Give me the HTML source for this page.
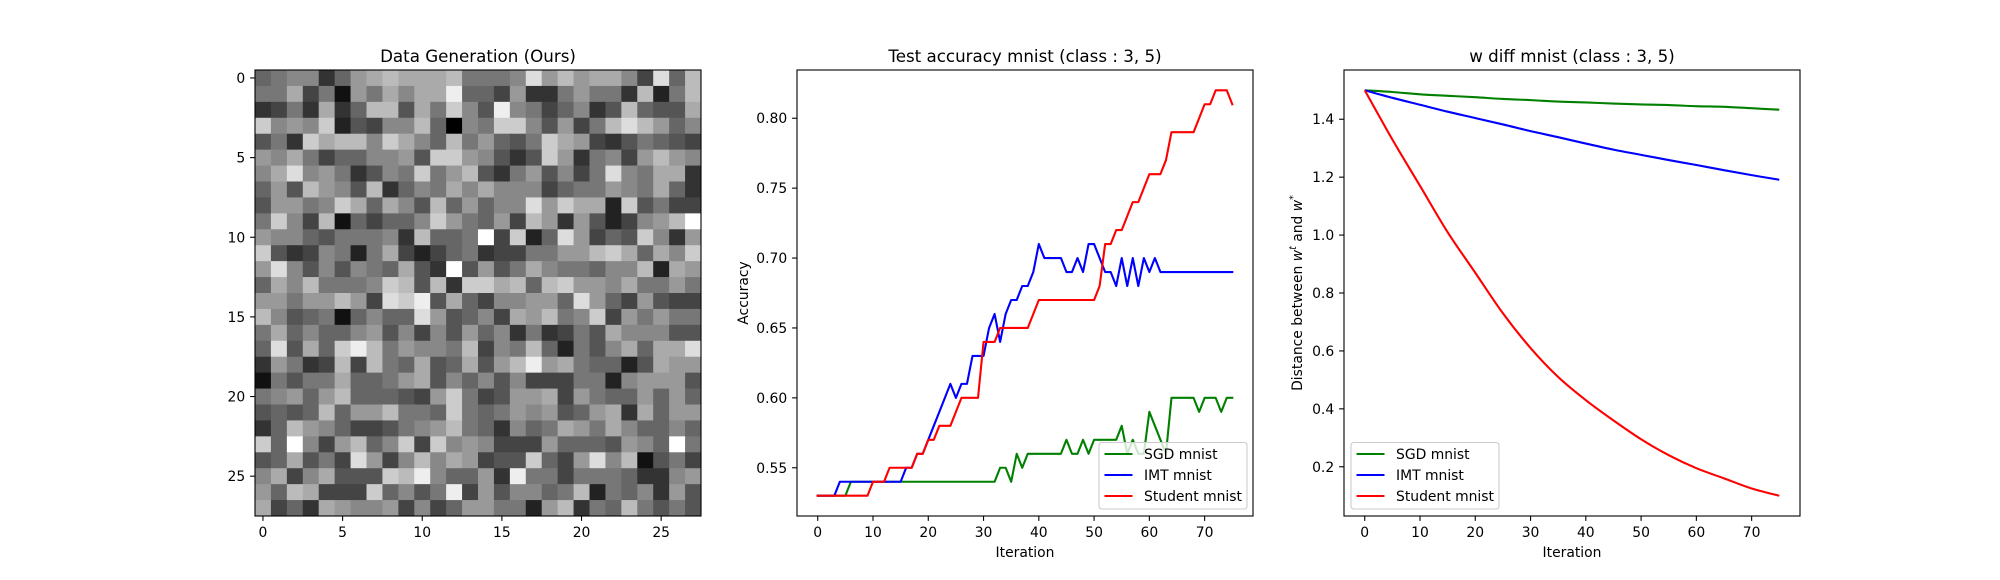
<!DOCTYPE html>
<html><head><meta charset="utf-8"><title>Charts</title>
<style>
html,body{margin:0;padding:0;background:#fff;}
svg{display:block;font-family:"DejaVu Sans","Liberation Sans",sans-serif;}
</style></head>
<body>
<svg id="fig" width="2000" height="580" viewBox="0 0 2000 580" xmlns="http://www.w3.org/2000/svg">
<rect width="2000" height="580" fill="#fff"/>
<g id="p1"></g>
<g id="p2"></g>
<g id="p3"></g>
</svg>
<script>
// ---------- Heatmap data (hex gray level 0-f per cell) ----------
const heatTopLeft = [
"6788369abaaab7","77a4719 7a8aae6","3473a36bb5a7c","c898c2548 8b608","573cabb8ca86b7",
"98a746688 95cc9","8ad89735 87c79b","695b985b368 7a","599 78ca6a85b69","7c84b1646 68c97",
"98865777 83b667","c534872 7a4246 7","9d858587 6a53f5","6a8b7778cb5b3c"];
const heatTopRight = [
"778d9b9aa84d6b","6493379773b27b","5e8746835b655a","7cc8594 7bdb968","96 57ca943576 54",
"8535c9378 49b98","537958 47d87aa3","a888467798 7a63","688d9caa2c5744","694b939524 89bf",
"f4c26d946 5c839","34477 99bca6a8c","957a8776 88b2a9","cab6bc998a7797"];
const heatBottomLeft = [
"99799b94dce5a6","b856716 86 6d956","7a686689584859","6d5a6ceb79887b","39734b4b76a56a",
"17577a66 79a586","7896 9b666549c7","5656b699b776c7","36b986445789b7","c6f849b68c4c89",
"56a574d948b8a9","8a48a555cbe866","96ba444c6857e4","a463a988948469"];
const heatBottomRight = [
"48899 6d964954 4","84a9b78c497977","683734 75a88855","487b627 58a6aad","59be9a76625a99",
"8584447728 9995","4599a497669696","67989569a3a699","638 67a97a86686","844496665986f7",
"455c649d8b1574","93e774777633 89","958867b27683 95","97729b376b7575"];
const heatTicks = [0,5,10,15,20,25];

// ---------- Accuracy chart data ----------
const accIter = [];
for (let i = 0; i <= 75; i++) accIter.push(i);
const accSGD = [.53,.53,.53,.53,.53,.53,.54,.54,.54,.54,.54,.54,.54,.54,.54,.54,.54,.54,.54,.54,
.54,.54,.54,.54,.54,.54,.54,.54,.54,.54,.54,.54,.54,.55,.55,.54,.56,.55,.56,.56,
.56,.56,.56,.56,.56,.57,.56,.56,.57,.56,.57,.57,.57,.57,.57,.58,.56,.57,.56,.56,
.59,.58,.57,.56,.60,.60,.60,.60,.60,.59,.60,.60,.60,.59,.60,.60];
const accIMT = [.53,.53,.53,.53,.54,.54,.54,.54,.54,.54,.54,.54,.54,.54,.54,.54,.55,.55,.56,.56,
.57,.58,.59,.60,.61,.60,.61,.61,.63,.63,.63,.65,.66,.64,.66,.67,.67,.68,.68,.69,
.71,.70,.70,.70,.70,.69,.69,.70,.69,.71,.71,.70,.69,.69,.68,.70,.68,.70,.68,.70,
.69,.70,.69,.69,.69,.69,.69,.69,.69,.69,.69,.69,.69,.69,.69,.69];
const accStudent = [.53,.53,.53,.53,.53,.53,.53,.53,.53,.53,.54,.54,.54,.55,.55,.55,.55,.55,.56,.56,
.57,.57,.58,.58,.58,.59,.60,.60,.60,.60,.64,.64,.64,.65,.65,.65,.65,.65,.65,.66,
.67,.67,.67,.67,.67,.67,.67,.67,.67,.67,.67,.68,.71,.71,.72,.72,.73,.74,.74,.75,
.76,.76,.76,.77,.79,.79,.79,.79,.79,.80,.81,.81,.82,.82,.82,.81];
const accXTicks = [0,10,20,30,40,50,60,70];
const accYTicks = [0.55,0.60,0.65,0.70,0.75,0.80];
const accYTickLabels = ["0.55","0.60","0.65","0.70","0.75","0.80"];

// ---------- w diff chart data ----------
const wIter = [0,5,10,15,20,25,30,35,40,45,50,55,60,65,70,75];
const wSGD = [1.5,1.494,1.486,1.481,1.476,1.470,1.466,1.461,1.458,1.454,1.451,1.449,1.445,1.443,1.438,1.433];
const wIMT = [1.5,1.474,1.450,1.426,1.404,1.382,1.359,1.338,1.316,1.295,1.277,1.259,1.242,1.224,1.207,1.191];
const wStudent = [1.5,1.33,1.17,1.01,0.87,0.73,0.61,0.51,0.43,0.36,0.295,0.24,0.195,0.16,0.125,0.10];
const wXTicks = [0,10,20,30,40,50,60,70];
const wYTicks = [0.2,0.4,0.6,0.8,1.0,1.2,1.4];
const wYTickLabels = ["0.2","0.4","0.6","0.8","1.0","1.2","1.4"];

const legendLabels = ["SGD mnist","IMT mnist","Student mnist"];
const seriesColors = ["#008000","#0000ff","#ff0000"];

// ---------- helpers ----------
const NS = "http://www.w3.org/2000/svg";
function mk(parent, tag, attrs, text) {
  const e = document.createElementNS(NS, tag);
  for (const k in attrs) e.setAttribute(k, attrs[k]);
  if (text !== undefined) e.textContent = text;
  parent.appendChild(e);
  return e;
}
function clean(s) { return (s.replace(/ /g, "") + "88888888888888").slice(0, 14); }
const FS = 13.9, TFS = 16.7, TL = 4.9;

// ---------- Panel 1: heatmap ----------
(function(){
  const g = document.getElementById('p1');
  const L = 255, T = 70, S = 446, N = 28, c = S / N;
  const x = v => L + (v + 0.5) * c;
  const y = v => T + (v + 0.5) * c;
  const rows = [];
  for (let r = 0; r < 14; r++) rows.push(clean(heatTopLeft[r]) + clean(heatTopRight[r]));
  for (let r = 0; r < 14; r++) rows.push(clean(heatBottomLeft[r]) + clean(heatBottomRight[r]));
  const cells = mk(g, 'g', {});
  
  
  for (let r = 0; r < N; r++) {
    for (let k = 0; k < N; k++) {
      let v = parseInt(rows[r][k], 16); if (isNaN(v)) v = 8;
      const gv = v * 17;
      const rc = mk(cells, 'rect', {x: (L + k * c).toFixed(2), y: (T + r * c).toFixed(2), width: (c + 0.4).toFixed(2), height: (c + 0.4).toFixed(2), fill: `rgb(${gv},${gv},${gv})`});
      
      
    }
  }
  const fr = mk(g, 'rect', {x: L, y: T, width: S, height: S, fill: 'none', stroke: '#000', 'stroke-width': 1.1});
  
  
  heatTicks.forEach(t => {
    mk(g, 'line', {x1: x(t), x2: x(t), y1: T + S, y2: T + S + TL, stroke: '#000', 'stroke-width': 1.1});
    const xl = mk(g, 'text', {x: x(t), y: T + S + TL + 4.9 + 11, 'font-size': FS, 'text-anchor': 'middle'}, String(t));
    
    
    mk(g, 'line', {x1: L - TL, x2: L, y1: y(t), y2: y(t), stroke: '#000', 'stroke-width': 1.1});
    const yl = mk(g, 'text', {x: L - TL - 4.9, y: y(t) + 5, 'font-size': FS, 'text-anchor': 'end'}, String(t));
    
    
  });
  const tt = mk(g, 'text', {x: L + S / 2, y: 62, 'font-size': TFS, 'text-anchor': 'middle'}, 'Data Generation (Ours)');
  
  
})();

// ---------- line chart builder ----------
function smoothPath(P) {
  let d = 'M' + P[0][0].toFixed(2) + ',' + P[0][1].toFixed(2);
  for (let i = 0; i < P.length - 1; i++) {
    const p0 = P[Math.max(0, i - 1)], p1 = P[i], p2 = P[i + 1], p3 = P[Math.min(P.length - 1, i + 2)];
    const c1 = [p1[0] + (p2[0] - p0[0]) / 6, p1[1] + (p2[1] - p0[1]) / 6];
    const c2 = [p2[0] - (p3[0] - p1[0]) / 6, p2[1] - (p3[1] - p1[1]) / 6];
    d += ' C' + c1[0].toFixed(2) + ',' + c1[1].toFixed(2) + ' ' + c2[0].toFixed(2) + ',' + c2[1].toFixed(2) + ' ' + p2[0].toFixed(2) + ',' + p2[1].toFixed(2);
  }
  return d;
}
function lineChart(gid, L, ymin, ymax, xs, series, xTicks, yTicks, yTickLabels, title, legendX, prefix, smooth) {
  const g = document.getElementById(gid);
  const T = 70, W = 456, H = 446;
  const xmin = -3.75, xmax = 78.75;
  const x = v => L + (v - xmin) / (xmax - xmin) * W;
  const y = v => T + H - (v - ymin) / (ymax - ymin) * H;
  series.forEach((s, i) => {
    const P = s.map((v, k) => [x(xs[k]), y(v)]);
    let el;
    if (smooth) {
      el = mk(g, 'path', {d: smoothPath(P), fill: 'none', stroke: seriesColors[i], 'stroke-width': 2.1, 'stroke-linejoin': 'round'});
    } else {
      el = mk(g, 'polyline', {points: P.map(p => p[0].toFixed(2) + ',' + p[1].toFixed(2)).join(' '), fill: 'none', stroke: seriesColors[i], 'stroke-width': 2.1, 'stroke-linejoin': 'round', 'stroke-linecap': 'square'});
    }
    
    
  });
  const fr = mk(g, 'rect', {x: L, y: T, width: W, height: H, fill: 'none', stroke: '#000', 'stroke-width': 1.1});
  
  
  xTicks.forEach(t => {
    mk(g, 'line', {x1: x(t), x2: x(t), y1: T + H, y2: T + H + TL, stroke: '#000', 'stroke-width': 1.1});
    const tl = mk(g, 'text', {x: x(t), y: T + H + TL + 4.9 + 11, 'font-size': FS, 'text-anchor': 'middle'}, String(t));
    
    
  });
  yTicks.forEach((t, i) => {
    mk(g, 'line', {x1: L - TL, x2: L, y1: y(t), y2: y(t), stroke: '#000', 'stroke-width': 1.1});
    const tl = mk(g, 'text', {x: L - TL - 4.9, y: y(t) + 5, 'font-size': FS, 'text-anchor': 'end'}, yTickLabels[i]);
    
    
  });
  const xl = mk(g, 'text', {x: L + W / 2, y: 557, 'font-size': FS, 'text-anchor': 'middle'}, 'Iteration');
  
  
  const tt = mk(g, 'text', {x: L + W / 2, y: 62, 'font-size': TFS, 'text-anchor': 'middle'}, title);
  
  
  const lg = mk(g, 'g', {});
  
  
  mk(lg, 'rect', {x: legendX, y: 442.5, width: 148, height: 66.5, rx: 2.8, fill: '#fff', 'fill-opacity': 0.8, stroke: '#cccccc', 'stroke-width': 1.1});
  legendLabels.forEach((lab, i) => {
    const cy = 454 + i * 21;
    const en = mk(lg, 'g', {});
    
    
    mk(en, 'line', {x1: legendX + 5.5, x2: legendX + 33.5, y1: cy, y2: cy, stroke: seriesColors[i], 'stroke-width': 2.1});
    mk(en, 'text', {x: legendX + 45, y: cy + 5, 'font-size': FS}, lab);
  });
  return g;
}

lineChart('p2', 797, 0.5155, 0.8345, accIter, [accSGD, accIMT, accStudent], accXTicks, accYTicks, accYTickLabels,
  'Test accuracy mnist (class : 3, 5)', 1099, 'accuracy', false);
const g3 = lineChart('p3', 1344, 0.03, 1.57, wIter, [wSGD, wIMT, wStudent], wXTicks, wYTicks, wYTickLabels,
  'w diff mnist (class : 3, 5)', 1351, 'wdiff', true);

(function(){
  const g2 = document.getElementById('p2');
  const a = mk(g2, 'text', {x: 0, y: 0, 'font-size': FS, 'text-anchor': 'middle', transform: 'translate(748,293) rotate(-90)'}, 'Accuracy');
  
  
  const t = mk(g3, 'text', {x: 0, y: 0, 'font-size': FS, 'text-anchor': 'middle', transform: 'translate(1302,293) rotate(-90)'});
  
  
  t.innerHTML = 'Distance between <tspan font-style="italic">w</tspan><tspan font-style="italic" font-size="9.5" dy="-6">t</tspan><tspan dy="6"> and </tspan><tspan font-style="italic">w</tspan><tspan font-size="9.5" dy="-6">*</tspan>';
})();
</script>
</body></html>
